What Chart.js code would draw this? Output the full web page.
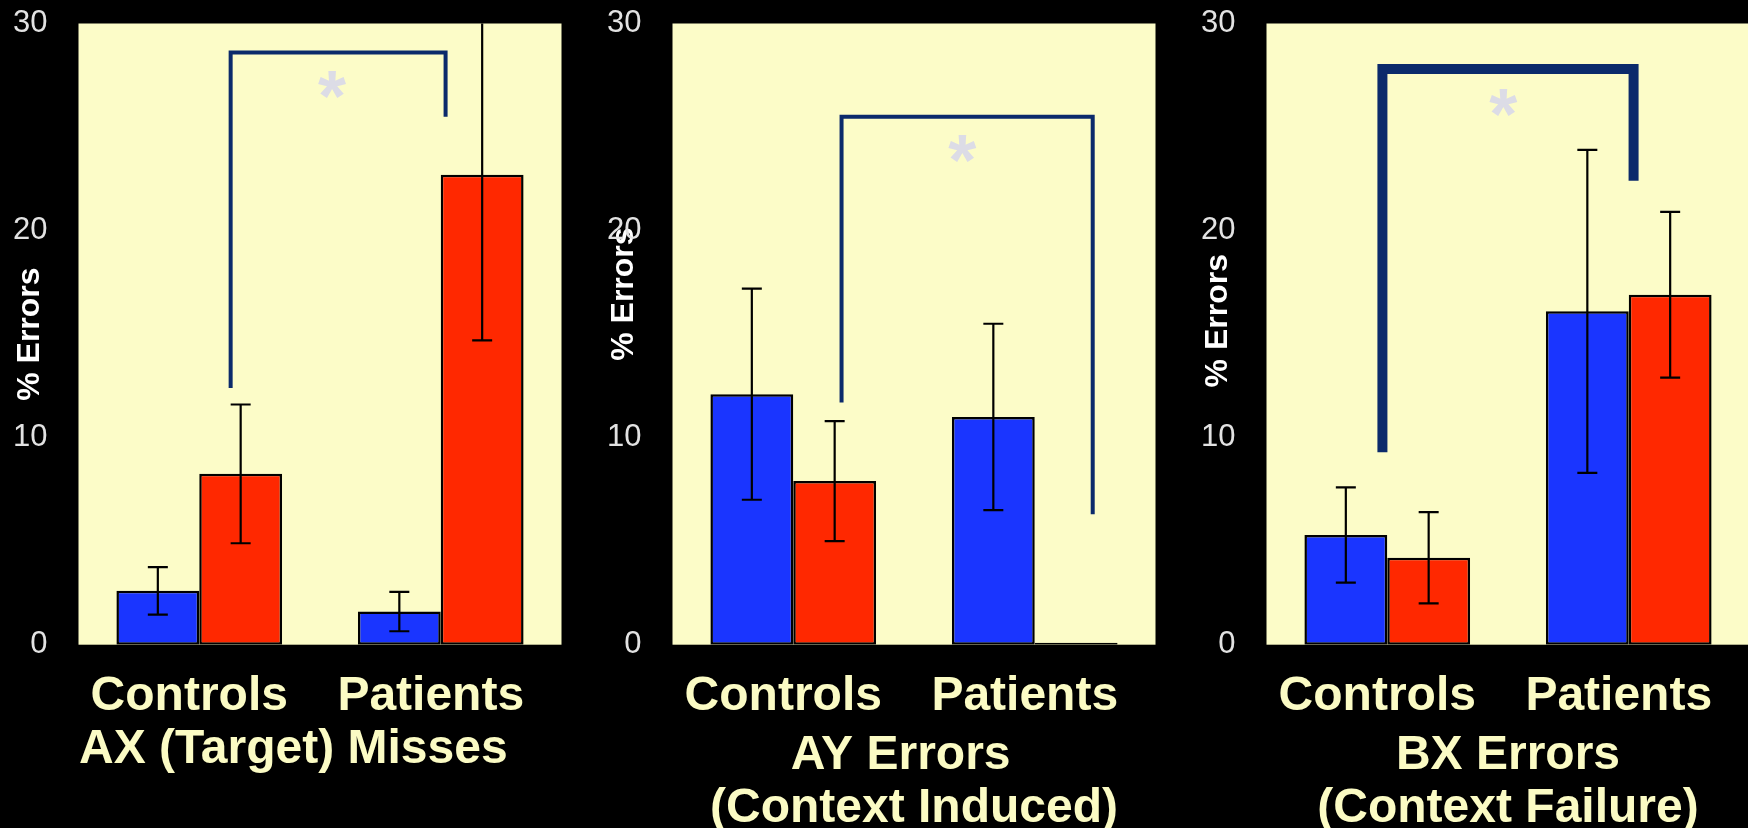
<!DOCTYPE html>
<html>
<head>
<meta charset="utf-8">
<script src="https://cdn.jsdelivr.net/npm/chart.js@4.4.1/dist/chart.umd.min.js"></script>
<style>
  html, body { margin: 0; padding: 0; background: #000; width: 1748px; height: 828px; overflow: hidden; }
  .panel { position: absolute; top: 0; width: 594px; height: 840px; }
</style>
</head>
<body>
<div class="panel" style="left:0px"><canvas id="chartAX" width="594" height="840"></canvas></div>
<div class="panel" style="left:594px"><canvas id="chartAY" width="594" height="840"></canvas></div>
<div class="panel" style="left:1188px"><canvas id="chartBX" width="594" height="840"></canvas></div>
<script>
// shared
const groups = ["Controls", "Patients"];
const yTicks = [0, 10, 20, 30];

// AX (target) misses
const axTitle = ["AX (Target) Misses    "];
const axYTitle = "% Errors";
const axBlue = [2.6, 1.6];
const axBlueErr = [1.15, 0.95];
const axRed = [8.25, 22.7];
const axRedErr = [3.35, 8.0];
const axBracket = [0.13, 1.02, 28.6, 12.4, 25.5]; // x1, x2, top, left end, right end
const axStar = [0.55, 27.0];

// AY errors
const ayTitle = ["AY Errors  ", "(Context Induced)"];
const ayYTitle = "         % Errors";
const ayBlue = [12.1, 11.0];
const ayBlueErr = [5.1, 4.5];
const ayRed = [7.9, 0.1];
const ayRedErr = [2.9, 0];
const ayBracket = [0.2, 1.24, 25.5, 11.7, 6.3];
const ayStar = [0.7, 23.9];

// BX errors
const bxTitle = ["BX Errors", "(Context Failure)"];
const bxYTitle = "   % Errors";
const bxBlue = [5.3, 16.1];
const bxBlueErr = [2.3, 7.8];
const bxRed = [4.2, 16.9];
const bxRedErr = [2.2, 4.0];
const bxBracket = [-0.02, 1.02, 27.8, 9.3, 22.4];
const bxStar = [0.48, 26.1];

const FONT = "'Liberation Sans', Arial, Helvetica, sans-serif";
const CREAM = "#fbfbc4";

const plotBg = {
  id: "plotBg",
  beforeDatasetsDraw(chart) {
    const { ctx, chartArea: a } = chart;
    ctx.save();
    ctx.fillStyle = "#fcfcc8";
    ctx.fillRect(a.left, a.top, a.width, a.height);
    ctx.restore();
  },
};

const errorBars = {
  id: "errorBars",
  afterDatasetsDraw(chart) {
    const { ctx, chartArea: a } = chart;
    const y = chart.scales.y;
    ctx.save();
    ctx.beginPath();
    ctx.rect(a.left, a.top, a.width, a.height);
    ctx.clip();
    ctx.strokeStyle = "#000";
    ctx.lineWidth = 2.2;
    chart.data.datasets.forEach((ds, di) => {
      chart.getDatasetMeta(di).data.forEach((bar, i) => {
        const err = ds.errors[i];
        if (!err) return;
        const hi = y.getPixelForValue(ds.data[i] + err);
        const lo = y.getPixelForValue(ds.data[i] - err);
        ctx.beginPath();
        ctx.moveTo(bar.x, hi);
        ctx.lineTo(bar.x, lo);
        ctx.moveTo(bar.x - 10, hi);
        ctx.lineTo(bar.x + 10, hi);
        ctx.moveTo(bar.x - 10, lo);
        ctx.lineTo(bar.x + 10, lo);
        ctx.stroke();
      });
    });
    ctx.restore();
  },
};

const sigBracket = {
  id: "sigBracket",
  afterDatasetsDraw(chart, args, opts) {
    const { ctx } = chart;
    const x = chart.scales.x;
    const y = chart.scales.y;
    const [x1, x2, top, leftEnd, rightEnd] = opts.pos;
    ctx.save();
    ctx.strokeStyle = "#0b2a6b";
    ctx.lineWidth = opts.width;
    ctx.lineJoin = "miter";
    ctx.beginPath();
    ctx.moveTo(x.getPixelForValue(x1), y.getPixelForValue(leftEnd));
    ctx.lineTo(x.getPixelForValue(x1), y.getPixelForValue(top));
    ctx.lineTo(x.getPixelForValue(x2), y.getPixelForValue(top));
    ctx.lineTo(x.getPixelForValue(x2), y.getPixelForValue(rightEnd));
    ctx.stroke();
    // asterisk
    ctx.fillStyle = "#dcdce6";
    ctx.font = "bold 72px " + FONT;
    ctx.textAlign = "center";
    ctx.textBaseline = "alphabetic";
    ctx.fillText("*", x.getPixelForValue(opts.star[0]), y.getPixelForValue(opts.star[1]) + 35);
    ctx.restore();
  },
};

function makeChart(id, title, yTitle, blue, blueErr, red, redErr, bracket, star, bracketWidth) {
  return new Chart(document.getElementById(id), {
    type: "bar",
    data: {
      labels: groups,
      datasets: [
        { data: blue, errors: blueErr, backgroundColor: "#1a35ff" },
        { data: red, errors: redErr, backgroundColor: "#ff2800" },
      ],
    },
    options: {
      responsive: false,
      animation: false,
      layout: { padding: { top: 23.5, right: 32.5, left: 0, bottom: 0 } },
      datasets: {
        bar: {
          categoryPercentage: 0.686,
          barPercentage: 1.0,
          borderColor: "#000",
          borderWidth: 2.5,
          borderSkipped: false,
        },
      },
      plugins: {
        legend: { display: false },
        tooltip: { enabled: false },
        sigBracket: { pos: bracket, star: star, width: bracketWidth },
      },
      scales: {
        x: {
          grid: { display: false },
          border: { display: false },
          ticks: {
            color: CREAM,
            font: { family: FONT, size: 48, weight: "bold" },
            padding: 15,
            labelOffset: -10,
          },
          title: {
            display: true,
            text: title,
            color: CREAM,
            font: { family: FONT, size: 48, weight: "bold", lineHeight: 1.12 },
            padding: { top: 0, bottom: title.length > 1 ? 4 : 63 },
          },
          afterFit(scale) {
            scale.height = 195.3;
            scale.paddingLeft = 0;
            scale.paddingRight = 0;
          },
        },
        y: {
          min: 0,
          max: 30,
          grid: { display: false },
          border: { display: false },
          afterBuildTicks(scale) { scale.ticks = yTicks.map((v) => ({ value: v })); },
          ticks: {
            color: "#e2e2e2",
            font: { family: FONT, size: 31 },
            padding: 23,
          },
          title: {
            display: true,
            text: yTitle,
            color: "#ffffff",
            font: { family: FONT, size: 32, weight: "bold", lineHeight: 1.2 },
            padding: { top: 11, bottom: 0 },
          },
          afterFit(scale) {
            scale.width = 78.5;
            scale.paddingTop = 0;
            scale.paddingBottom = 0;
          },
        },
      },
    },
    plugins: [plotBg, errorBars, sigBracket],
  });
}

makeChart("chartAX", axTitle, axYTitle, axBlue, axBlueErr, axRed, axRedErr, axBracket, axStar, 4);
makeChart("chartAY", ayTitle, ayYTitle, ayBlue, ayBlueErr, ayRed, ayRedErr, ayBracket, ayStar, 4);
makeChart("chartBX", bxTitle, bxYTitle, bxBlue, bxBlueErr, bxRed, bxRedErr, bxBracket, bxStar, 10);
</script>
</body>
</html>
